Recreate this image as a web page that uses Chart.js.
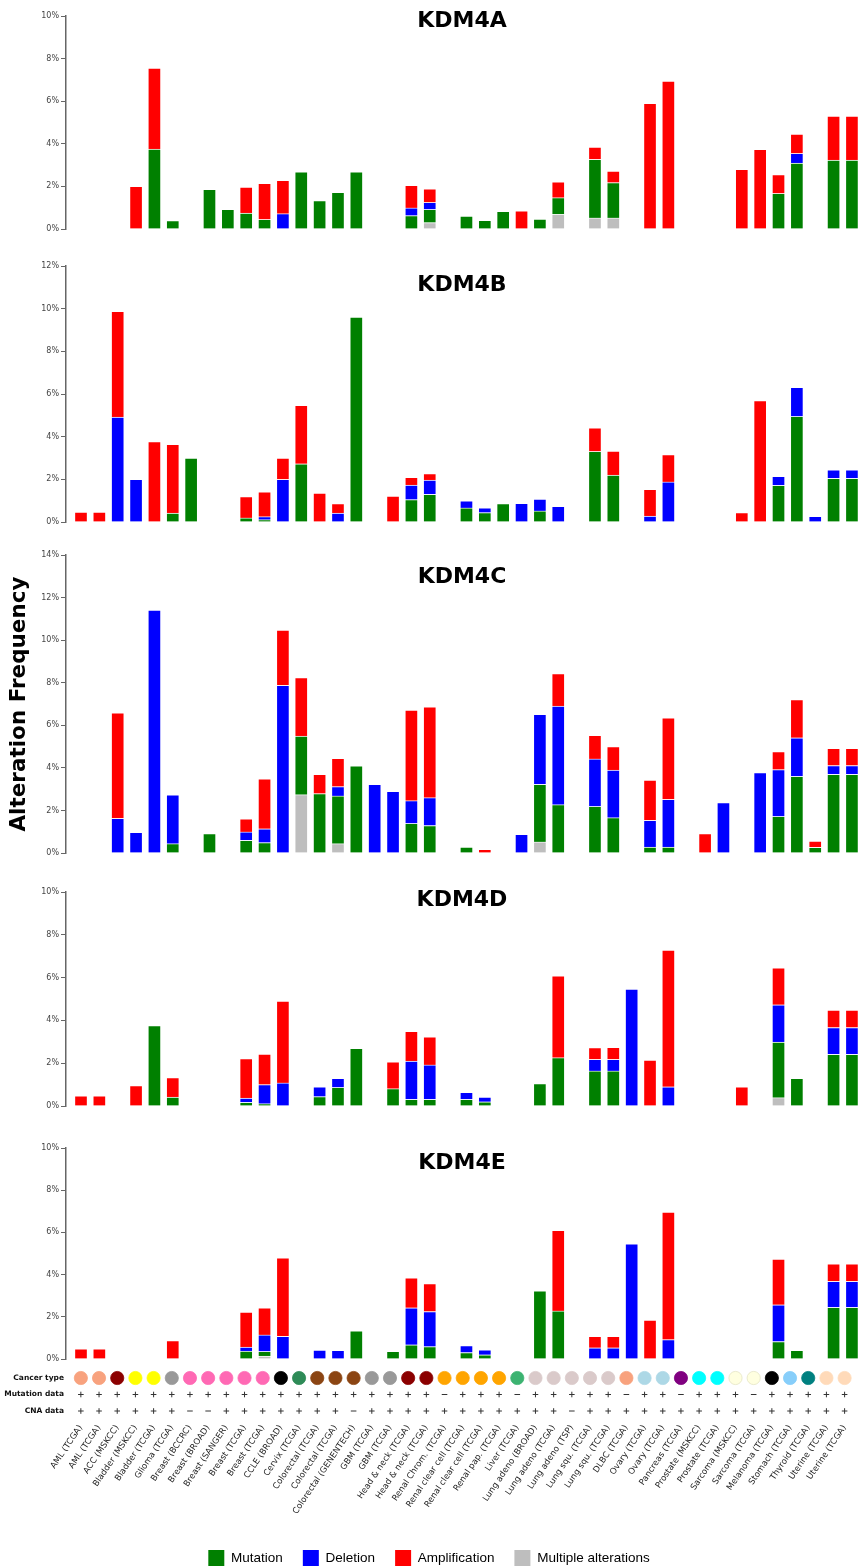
<!DOCTYPE html>
<html>
<head>
<meta charset="utf-8">
<script src="https://cdn.jsdelivr.net/npm/chart.js@4.4.1/dist/chart.umd.min.js"></script>
<style>
  html, body { margin: 0; padding: 0; background: #fff; overflow: hidden; }
  body { width: 858px; height: 1566px; position: relative; }
  canvas { position: absolute; left: 0; }
</style>
</head>
<body>
<script>
const _ = null;

const studies = [
  'AML (TCGA)', 'AML (TCGA)', 'ACC (MSKCC)', 'Bladder (MSKCC)', 'Bladder (TCGA)', 'Glioma (TCGA)', 'Breast (BCCRC)', 'Breast (BROAD)', 'Breast (SANGER)', 'Breast (TCGA)',
  'Breast (TCGA)', 'CCLE (BROAD)', 'Cervix (TCGA)', 'Colorectal (TCGA)', 'Colorectal (TCGA)', 'Colorectal (GENENTECH)', 'GBM (TCGA)', 'GBM (TCGA)', 'Head & neck (TCGA)', 'Head & neck (TCGA)',
  'Renal Chrom. (TCGA)', 'Renal clear cell (TCGA)', 'Renal clear cell (TCGA)', 'Renal pap. (TCGA)', 'Liver (TCGA)', 'Lung adeno (BROAD)', 'Lung adeno (TCGA)', 'Lung adeno (TSP)', 'Lung squ. (TCGA)', 'Lung squ. (TCGA)',
  'DLBC (TCGA)', 'Ovary (TCGA)', 'Ovary (TCGA)', 'Pancreas (TCGA)', 'Prostate (MSKCC)', 'Prostate (TCGA)', 'Sarcoma (MSKCC)', 'Sarcoma (TCGA)', 'Melanoma (TCGA)', 'Stomach (TCGA)',
  'Thyroid (TCGA)', 'Uterine (TCGA)', 'Uterine (TCGA)'
];

const cancerColors = [
  '#f8a27e', '#f8a27e', '#8b0000', '#ffff00', '#ffff00', '#999999', '#ff69b4', '#ff69b4', '#ff69b4', '#ff69b4',
  '#ff69b4', '#000000', '#2e8b57', '#8b4513', '#8b4513', '#8b4513', '#999999', '#999999', '#8b0000', '#8b0000',
  '#ffa500', '#ffa500', '#ffa500', '#ffa500', '#3cb371', '#dacaca', '#dacaca', '#dacaca', '#dacaca', '#dacaca',
  '#f8a27e', '#add8e6', '#add8e6', '#800080', '#00ffff', '#00ffff', '#ffffe0', '#ffffe0', '#000000', '#87cefa',
  '#008080', '#ffdab9', '#ffdab9'
];

const mutationData = '++++++++++++++++++++-+++-+++++-++-+++-+++++'.split('');
const cnaData      = '++++++--+++++++-+++++++++++-+++++++++++++++'.split('');

const rowNames = ['Cancer type', 'Mutation data', 'CNA data'];
const genes = ['KDM4A', 'KDM4B', 'KDM4C', 'KDM4D', 'KDM4E'];
const yMax = [10, 12, 14, 10, 10];
const yTicks = ['0%', '2%', '4%', '6%', '8%', '10%', '12%', '14%'];

const seriesNames = ['Mutation', 'Deletion', 'Amplification', 'Multiple alterations'];
const seriesColors = ['#008000', '#0000ff', '#ff0000', '#bebebe'];

// KDM4A
const kdm4aMut = [_,_,_,_,3.75,0.4,_,1.86,0.92,0.75, 0.45,_,2.68,1.33,1.72,2.68,_,_,0.63,0.62, _,0.61,0.41,0.83,_,0.47,0.78,_,2.75,1.66, _,_,_,_,_,_,_,_,1.67,3.1, _,3.24,3.24];
const kdm4aDel = [_,_,_,_,_,_,_,_,_,_, _,0.72,_,_,_,_,_,_,0.36,0.33, _,_,_,_,_,_,_,_,_,_, _,_,_,_,_,_,_,_,_,0.45, _,_,_];
const kdm4aAmp = [_,_,_,2.0,3.8,_,_,_,_,1.22, 1.69,1.56,_,_,_,_,_,_,1.06,0.64, _,_,_,_,0.85,_,0.75,_,0.58,0.54, _,5.9,6.95,_,_,_,2.8,3.74,0.88,0.91, _,2.06,2.06];
const kdm4aMulti = [_,_,_,_,_,_,_,_,_,_, _,_,_,_,_,_,_,_,_,0.3, _,_,_,_,_,_,0.69,_,0.52,0.52, _,_,_,_,_,_,_,_,_,_, _,_,_];

// KDM4B
const kdm4bMut = [_,_,_,_,_,0.42,3.0,_,_,0.19, 0.11,_,2.73,_,_,9.6,_,_,1.05,1.3, _,0.66,0.44,0.86,_,0.52,_,_,3.31,2.2, _,_,_,_,_,_,_,_,1.72,4.95, _,2.05,2.05];
const kdm4bDel = [_,_,4.92,2.0,_,_,_,_,_,_, 0.14,2.0,_,_,0.42,_,_,_,0.68,0.66, _,0.33,0.23,_,0.875,0.55,0.73,_,_,_, _,0.28,1.88,_,_,_,_,_,0.42,1.36, 0.27,0.39,0.39];
const kdm4bAmp = [0.47,0.47,4.96,_,3.77,3.22,_,_,_,1.0, 1.16,1.0,2.74,1.36,0.44,_,_,1.22,0.36,0.31, _,_,_,_,_,_,_,_,1.11,1.13, _,1.25,1.28,_,_,_,0.44,5.69,_,_, _,_,_];
const kdm4bMulti = [_,_,_,_,_,_,_,_,_,_, _,_,_,_,_,_,_,_,_,_, _,_,_,_,_,_,_,_,_,_, _,_,_,_,_,_,_,_,_,_, _,_,_];

// KDM4C
const kdm4cMut = [_,_,_,_,_,0.44,_,0.91,_,0.6, 0.49,_,2.75,2.79,2.24,4.1,_,_,1.39,1.29, _,0.28,_,_,_,2.71,2.27,_,2.19,1.66, _,0.28,0.28,_,_,_,_,_,1.72,3.6, 0.27,3.7,3.7];
const kdm4cDel = [_,_,1.63,0.97,11.41,2.29,_,_,_,0.39, 0.65,7.88,_,_,0.44,_,3.23,2.9,1.07,1.31, _,_,_,_,0.88,3.29,4.63,_,2.23,2.23, _,1.26,2.24,_,_,2.37,_,3.78,2.2,1.81, _,0.41,0.41];
const kdm4cAmp = [_,_,4.95,_,_,_,_,_,_,0.61, 2.34,2.59,2.75,0.91,1.33,_,_,_,4.25,4.27, _,_,0.17,_,_,_,1.53,_,1.11,1.11, _,1.88,3.83,_,0.91,_,_,_,0.84,1.8, 0.29,0.81,0.81];
const kdm4cMulti = [_,_,_,_,_,_,_,_,_,_, _,_,2.74,_,0.44,_,_,_,_,_, _,_,_,_,_,0.52,_,_,_,_, _,_,_,_,_,_,_,_,_,_, _,_,_];

// KDM4D
const kdm4dMut = [_,_,_,_,3.76,0.42,_,_,_,0.17, 0.11,_,_,0.44,0.87,2.7,_,0.81,0.31,0.31, _,0.31,0.2,_,_,1.05,2.26,_,1.64,1.64, _,_,_,_,_,_,_,_,2.6,1.29, _,2.42,2.42];
const kdm4dDel = [_,_,_,_,_,_,_,_,_,0.2, 0.89,1.08,_,0.45,0.42,_,_,_,1.79,1.61, _,0.33,0.22,_,_,_,_,_,0.54,0.54, 5.46,_,0.9,_,_,_,_,_,1.74,_, _,1.25,1.25];
const kdm4dAmp = [0.47,0.47,_,0.95,_,0.91,_,_,_,1.85, 1.43,3.82,_,_,_,_,_,1.25,1.39,1.31, _,_,_,_,_,_,3.82,_,0.55,0.56, _,2.14,6.39,_,_,_,0.9,_,1.73,_, _,0.81,0.81];
const kdm4dMulti = [_,_,_,_,_,_,_,_,_,_, _,_,_,_,_,_,_,_,_,_, _,_,_,_,_,_,_,_,_,_, _,_,_,_,_,_,_,_,0.39,_, _,_,_];

// KDM4E
const kdm4eMut = [_,_,_,_,_,_,_,_,_,0.37, 0.22,_,_,_,_,1.33,_,0.36,0.67,0.59, _,0.31,0.2,_,_,3.23,2.28,_,_,_, _,_,_,_,_,_,_,_,0.83,0.41, _,2.45,2.45];
const kdm4eDel = [_,_,_,_,_,_,_,_,_,0.19, 0.78,1.08,_,0.42,0.41,_,_,_,1.76,1.66, _,0.33,0.24,_,_,_,_,_,0.53,0.53, 5.46,_,0.92,_,_,_,_,_,1.74,_, _,1.23,1.23];
const kdm4eAmp = [0.48,0.48,_,_,_,0.87,_,_,_,1.66, 1.29,3.71,_,_,_,_,_,_,1.42,1.32, _,_,_,_,_,_,3.82,_,0.55,0.55, _,1.84,6.04,_,_,_,_,_,2.16,_, _,0.83,0.83];
const kdm4eMulti = [_,_,_,_,_,_,_,_,_,_, 0.14,_,_,_,_,_,_,_,_,_, _,_,_,_,_,_,_,_,_,_, _,_,_,_,_,_,_,_,_,_, _,_,_];

Chart.defaults.font.family = "'DejaVu Sans', sans-serif";
Chart.defaults.color = '#444';

// shared horizontal frame so every panel lines up with the study dots
const W = 858, AXIS_W = 66, X_MIN = -0.817, X_MAX = 42.33;

// page placement of each panel: pixel of top tick, pixel of 0%, title offset
const panelBox = [
  { top: 16, zero: 229, titleDy: 5.7 },
  { top: 265.7, zero: 521.7, titleDy: 19.6 },
  { top: 555, zero: 852.7, titleDy: 22.5 },
  { top: 892.3, zero: 1106, titleDy: 8.5 },
  { top: 1148.3, zero: 1359.3, titleDy: 15.5 }
];

function addCanvas(top, height) {
  const c = document.createElement('canvas');
  c.width = W;
  c.height = Math.round(height);
  c.style.top = top + 'px';
  document.body.appendChild(c);
  return c;
}

function makePanel(k, mut, del, amp, multi) {
  const box = panelBox[k];
  const pad = 8;
  const canvas = addCanvas(box.top - pad, box.zero - box.top + 2 * pad);
  // bottom to top: multiple, mutation, deletion, amplification
  const stack = [[multi, 3], [mut, 0], [del, 1], [amp, 2]];
  const datasets = stack.map(([vals, s]) => ({
    label: seriesNames[s],
    data: vals.map((v, i) => ({ x: i, y: v })),
    backgroundColor: seriesColors[s],
    borderColor: 'rgba(255,255,255,0.55)',
    borderWidth: 1,
    barThickness: 13
  }));

  new Chart(canvas, {
    type: 'bar',
    data: { datasets },
    options: {
      responsive: false,
      animation: false,
      layout: { padding: { top: pad, bottom: pad, left: 0, right: 0 } },
      plugins: {
        legend: { display: false },
        tooltip: { enabled: false },
        title: {
          display: true,
          text: genes[k],
          fullSize: false,
          color: '#000',
          font: { size: 22, weight: 'bold' },
          padding: { top: box.titleDy - 13.2, bottom: -13.2 - box.titleDy }
        }
      },
      scales: {
        x: { type: 'linear', min: X_MIN, max: X_MAX, offset: false, bounds: 'data', stacked: true, display: false },
        y: {
          stacked: true,
          min: 0,
          max: yMax[k],
          ticks: { stepSize: 2, font: { size: 8 }, color: '#444', padding: 2,
                   callback: (v) => yTicks[v / 2] },
          grid: { drawOnChartArea: false, tickLength: 5, color: '#666', lineWidth: 1 },
          border: { color: '#666', width: 1.5 },
          title: k === 2 ? {
            display: true,
            text: 'Alteration Frequency',
            color: '#000',
            font: { size: 21.5, weight: 'bold' },
            padding: { top: 7, bottom: 0 }
          } : { display: false },
          afterFit(s) { s.width = AXIS_W; }
        }
      }
    }
  });
}

makePanel(0, kdm4aMut, kdm4aDel, kdm4aAmp, kdm4aMulti);
makePanel(1, kdm4bMut, kdm4bDel, kdm4bAmp, kdm4bMulti);
makePanel(2, kdm4cMut, kdm4cDel, kdm4cAmp, kdm4cMulti);
makePanel(3, kdm4dMut, kdm4dDel, kdm4dAmp, kdm4dMulti);
makePanel(4, kdm4eMut, kdm4eDel, kdm4eAmp, kdm4eMulti);

// study annotation rows, rotated study names and legend
const bottomTop = 1360;
const bottomCanvas = addCanvas(bottomTop, 1576 - bottomTop);
const flagStyle = (f) => (f === '+' ? 'cross' : 'line');

new Chart(bottomCanvas, {
  type: 'scatter',
  data: {
    datasets: [
      {
        data: studies.map((s, i) => ({ x: i, y: rowNames[0] })),
        backgroundColor: cancerColors,
        borderColor: cancerColors.map(c => (c === '#ffffe0' ? '#e4e4c4' : c)),
        borderWidth: 0.8,
        pointRadius: 6.6,
        pointHoverRadius: 6.6,
        clip: false
      },
      {
        data: mutationData.map((f, i) => ({ x: i, y: rowNames[1] })),
        pointStyle: mutationData.map(flagStyle),
        pointRadius: 2.8,
        borderColor: '#333',
        borderWidth: 1,
        clip: false
      },
      {
        data: cnaData.map((f, i) => ({ x: i, y: rowNames[2] })),
        pointStyle: cnaData.map(flagStyle),
        pointRadius: 2.8,
        borderColor: '#333',
        borderWidth: 1,
        clip: false
      }
    ]
  },
  options: {
    responsive: false,
    animation: false,
    layout: { padding: { top: 9.75, left: 0, right: 0, bottom: 0 } },
    plugins: {
      tooltip: { enabled: false },
      legend: {
        position: 'bottom',
        onClick: null,
        labels: {
          boxWidth: 16,
          boxHeight: 16,
          padding: 20,
          color: '#111',
          font: { family: "'Liberation Sans', sans-serif", size: 13.5 },
          generateLabels: () => seriesNames.map((n, i) => ({
            text: n,
            fillStyle: seriesColors[i],
            strokeStyle: seriesColors[i],
            lineWidth: 0,
            hidden: false,
            datasetIndex: i
          }))
        }
      }
    },
    scales: {
      x: {
        type: 'linear',
        min: X_MIN,
        max: X_MAX,
        offset: false,
        bounds: 'data',
        grid: { display: false, drawTicks: false },
        border: { display: false },
        ticks: {
          autoSkip: false,
          minRotation: 56,
          maxRotation: 56,
          padding: 4,
          color: '#222',
          font: { size: 8.5 },
          callback: (v, i) => studies[i]
        },
        afterBuildTicks(s) { s.ticks = studies.map((c, i) => ({ value: i })); },
        afterFit(s) { s.height = 110.75; s.paddingLeft = 0; s.paddingRight = 0; }
      },
      y: {
        type: 'category',
        labels: rowNames,
        offset: true,
        grid: { display: false, drawTicks: false },
        border: { display: false },
        ticks: { color: '#111', padding: 2, font: { size: 7.5, weight: 'bold' } },
        afterFit(s) { s.width = AXIS_W; }
      }
    }
  }
});
</script>
</body>
</html>
